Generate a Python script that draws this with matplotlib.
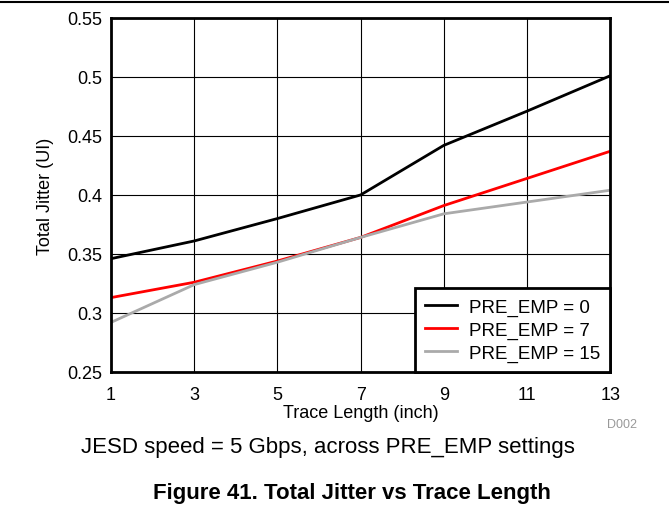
import matplotlib.pyplot as plt
from matplotlib.lines import Line2D

plt.rcParams['font.family'] = ['Liberation Sans', 'DejaVu Sans']

# Dados
trace_len = [1, 3, 5, 7, 9, 11, 13]
jitter_pe0 = [0.346, 0.361, 0.380, 0.400, 0.442, 0.471, 0.501]
jitter_pe7 = [0.313, 0.326, 0.344, 0.364, 0.391, 0.414, 0.437]
jitter_pe15 = [0.292, 0.324, 0.343, 0.364, 0.384, 0.394, 0.404]
labels = ["PRE_EMP = 0", "PRE_EMP = 7", "PRE_EMP = 15"]
colors = ["black", "#ff0000", "#aaaaaa"]

fig = plt.figure(figsize=(6.69, 5.06), dpi=100)
ax = fig.add_axes([0.166, 0.263, 0.746, 0.6995])

for y, lab, c in zip([jitter_pe0, jitter_pe7, jitter_pe15], labels, colors):
    ax.plot(trace_len, y, color=c, lw=2, label=lab)

ax.set_xlim(1, 13)
ax.set_ylim(0.25, 0.55)
ax.set_xticks(trace_len)
ax.set_yticks([0.25, 0.3, 0.35, 0.4, 0.45, 0.5, 0.55])
ax.set_yticklabels(["0.25", "0.3", "0.35", "0.4", "0.45", "0.5", "0.55"])
ax.tick_params(length=0, labelsize=13)
ax.tick_params(axis="x", pad=10)
ax.tick_params(axis="y", pad=6)
ax.grid(True, color="black", lw=0.8)
for s in ax.spines.values():
    s.set_linewidth(2)

ax.set_xlabel("Trace Length (inch)", fontsize=13, labelpad=1)
ax.set_ylabel("Total Jitter (UI)", fontsize=13, labelpad=10)

leg = ax.legend(loc="lower right", fontsize=13.5, fancybox=False, framealpha=1,
                edgecolor="black", borderaxespad=0, handlelength=1.7,
                handletextpad=0.6, labelspacing=0.3, borderpad=0.55)
leg.get_frame().set_linewidth(2)

fig.add_artist(Line2D([0, 1], [0.994, 0.994], color="black", lw=1.5))
fig.text(0.93, 0.16, "D002", fontsize=9, color="#999999", ha="center", va="center")
fig.text(0.49, 0.115, "JESD speed = 5 Gbps, across PRE_EMP settings", fontsize=16,
         ha="center", va="center")
fig.text(0.526, 0.024, "Figure 41. Total Jitter vs Trace Length", fontsize=16,
         fontweight="bold", ha="center", va="center")

fig.savefig("out.png", dpi=100)
